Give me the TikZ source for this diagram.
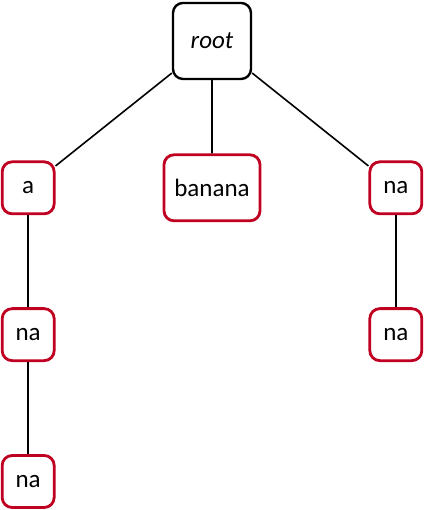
\documentclass[tikz,border=0pt]{standalone}
\usepackage{fontspec}
\setmainfont{Carlito}
\usepackage{tikz}
\tikzset{>=latex}
\definecolor{leafred}{RGB}{192,0,32}
\tikzset{
    trie/.style={draw=leafred, line width=1.4pt, rounded corners=5pt, minimum size=26pt, inner sep=2pt},
    rootbox/.style={draw, line width=1.2pt, rounded corners=5pt, minimum width=39pt, minimum height=38pt}
}

\begin{document}
\begin{tikzpicture}[font=\fontsize{12.5}{15}\selectfont, line width=.8pt]
    \useasboundingbox(-3.725, .72)rectangle(3.743, -8.241);
    \node[rootbox](root)at(0, 0){\textit{root}};
    \node[trie](a)at(-3.23, -2.58){a};
    \node[trie, minimum width=48pt, minimum height=33pt](banana)at(0, -2.58){banana};
    \node[trie](na)at(3.23, -2.58){na};
    \node[trie](ana)at(-3.23, -5.16){na};
    \node[trie](anana)at(-3.23, -7.74){na};
    \node[trie](nana)at(3.23, -5.16){na};
    \draw(root)--(a)(root)--(banana)(root)--(na);
    \draw(a)--(ana)--(anana)(na)--(nana);
\end{tikzpicture}
\end{document}
